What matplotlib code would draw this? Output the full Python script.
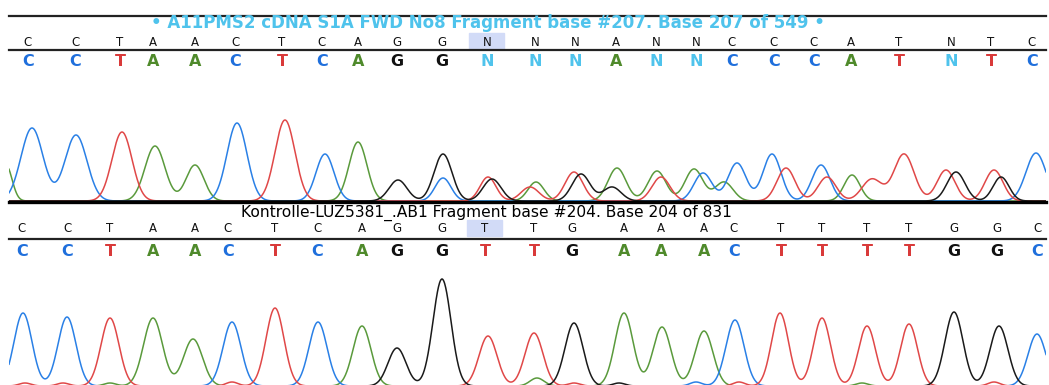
import numpy as np
import matplotlib
matplotlib.use('Agg')
import matplotlib.pyplot as plt

W, H = 1049, 385

# colours per base
COLORS = {'A': '#4f8a2b', 'C': '#1f6fdc', 'G': '#111111', 'T': '#d93a3a', 'N': '#4fc3ec'}
TRACE = {'A': '#5a9a3c', 'C': '#2a80e6', 'G': '#1a1a1a', 'T': '#e04848'}

# ---- top read (sample)
top_title = "\u2022 A11PMS2 cDNA S1A FWD No8 Fragment base #207. Base 207 of 549 \u2022"
top_ref = list("CCTAACTCAGGNNNANNCCCATNTC")
top_calls = list("CCTAACTCAGGNNNANNCCCATNTC")
top_pos = [28, 75, 120, 153, 195, 235, 282, 322, 358, 397, 442, 487, 535, 575,
           616, 656, 696, 732, 774, 814, 851, 899, 951, 991, 1032]
top_sel = 11

# peaks: (position, height, sigma)
top_peaks = {
    'C': [(32, 73, 11), (76, 66, 11), (237, 78, 10), (325, 47, 9), (443, 23, 8),
          (703, 28, 9), (737, 38, 9), (772, 47, 9), (821, 36, 9), (1036, 48, 10)],
    'T': [(122, 69, 10), (285, 81, 10), (488, 24, 8), (530, 14, 9), (574, 29, 9),
          (661, 24, 9), (786, 33, 9), (827, 24, 9), (872, 22, 10), (904, 47, 10),
          (946, 31, 9), (994, 31, 9)],
    'A': [(6, 36, 6), (155, 55, 10), (195, 36, 9), (358, 59, 9), (536, 19, 8),
          (617, 33, 9), (657, 30, 9), (694, 32, 9), (724, 19, 9), (852, 26, 8)],
    'G': [(398, 21, 9), (443, 47, 9), (492, 22, 9), (581, 27, 9), (612, 14, 9),
          (956, 29, 9), (1001, 24, 8)],
}

# ---- bottom read (reference)
bot_title = "Kontrolle-LUZ5381_.AB1 Fragment base #204. Base 204 of 831"
bot_ref = list("CCTAACTCAGGTTGAAACTTTTGGC")
bot_calls = list("CCTAACTCAGGTTGAAACTTTTGGC")
bot_pos = [22, 67, 110, 153, 195, 228, 275, 317, 362, 397, 442, 485, 534, 572,
           624, 661, 704, 734, 781, 822, 867, 909, 954, 997, 1037]
bot_sel = 11

bot_peaks = {
    'C': [(23, 73, 9), (67, 69, 9), (232, 64, 9), (318, 64, 9), (696, 4, 6),
          (735, 66, 9), (1037, 52, 9)],
    'T': [(25, 3, 6), (63, 3, 6), (110, 68, 9), (232, 4, 6), (275, 78, 9),
          (488, 50, 9), (534, 53, 9), (574, 3, 6), (739, 4, 6), (780, 73, 8.5),
          (822, 68, 8.5), (867, 60, 8.5), (909, 62, 8.5), (994, 4, 6)],
    'A': [(110, 3, 6), (153, 68, 9.5), (193, 47, 9.5), (362, 60, 9), (537, 8, 7),
          (624, 73, 9), (662, 59, 9), (704, 55, 9), (862, 3, 6)],
    'G': [(397, 38, 9), (442, 107, 9), (574, 63, 9), (619, 3, 6), (954, 74, 9),
          (999, 60, 9)],
}


def trace(x, peaks):
    y = np.zeros_like(x)
    for p, h, s in peaks:
        y += h * np.exp(-(x - p) ** 2 / (2 * s ** 2))
    return y


def px_axes(fig, x0, x1, ytop, ybot):
    return fig.add_axes([x0 / W, 1 - ybot / H, (x1 - x0) / W, (ybot - ytop) / H])


fig = plt.figure(figsize=(W / 100, H / 100), dpi=100, facecolor='white')

# trace panels
x = np.linspace(9, 1046, 3000)
for peaks, ytop, ybot in [(top_peaks, 71, 201), (bot_peaks, 256, 386)]:
    ax = px_axes(fig, 9, 1046, ytop, ybot)
    ax.set_xlim(9, 1046)
    ax.set_ylim(0, ybot - ytop)
    ax.axis('off')
    for base in ['A', 'C', 'T', 'G']:
        ax.plot(x, trace(x, peaks[base]), color=TRACE[base], lw=1.1)

# overlay in pixel units for headers and rules
ov = fig.add_axes([0, 0, 1, 1])
ov.set_xlim(0, W)
ov.set_ylim(H, 0)
ov.axis('off')

# rules
ov.plot([9, 1046], [15.5, 15.5], color='#222222', lw=1.6)
ov.plot([9, 1046], [50, 50], color='#222222', lw=1.6)
ov.plot([9, 1046], [202, 202], color='black', lw=2.4)
ov.plot([9, 1046], [239, 239], color='#222222', lw=1.6)

# headers
ov.text(488, 23.5, top_title, color='#4fc3ec', fontsize=12, fontweight='bold',
        ha='center', va='center')
ov.text(486, 213, bot_title, color='black', fontsize=11.2, ha='center', va='center')

for pos, ref, call, sel, yref, ycall in [
        (top_pos, top_ref, top_calls, top_sel, 42, 62),
        (bot_pos, bot_ref, bot_calls, bot_sel, 229, 251)]:
    ov.add_patch(plt.Rectangle((pos[sel] - 18, yref - 9), 35, 16,
                               color='#d2dbf7', zorder=0))
    for xp, r, c in zip(pos, ref, call):
        ov.text(xp, yref, r, color='#111111', fontsize=8.5, ha='center', va='center')
        ov.text(xp, ycall, c, color=COLORS[c], fontsize=11.5, fontweight='bold',
                ha='center', va='center')

fig.savefig('out.png', dpi=100, facecolor='white')
